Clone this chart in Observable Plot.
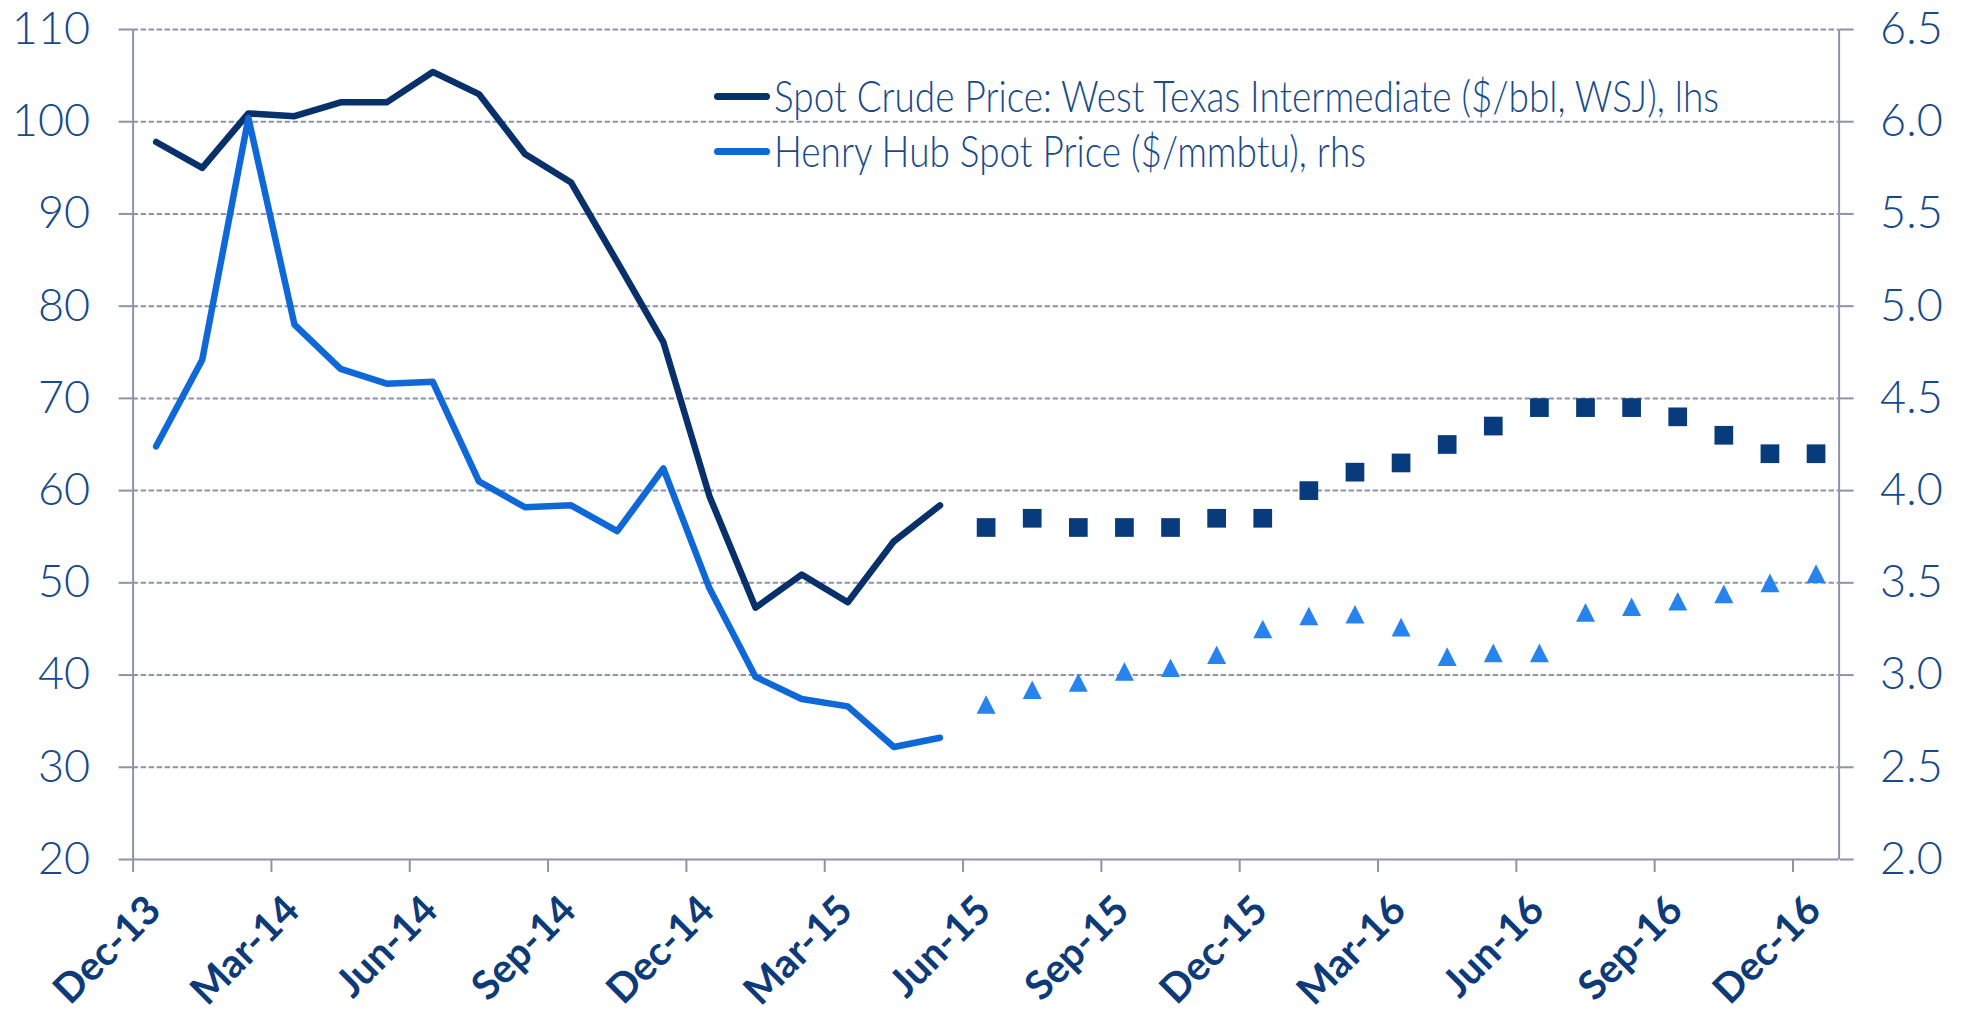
<!DOCTYPE html>
<html>
<head>
<meta charset="utf-8">
<script src="https://cdn.jsdelivr.net/npm/d3@7"></script>
<script src="https://cdn.jsdelivr.net/npm/@observablehq/plot@0.6"></script>
<style>
  html, body { margin: 0; padding: 0; background: #fff; }
  #wrap { position: relative; width: 1967px; height: 1014px; overflow: hidden; background: #fff; }
  #wrap svg { position: absolute; left: 0; top: 0; }
  .leg { position: absolute; display: flex; align-items: center; white-space: nowrap; height: 42px; }
  .sw { display: inline-block; width: 56px; height: 7px; border-radius: 4px; margin-right: 4px; flex: none; }
  .lt { display: inline-block; font-family: Lato, sans-serif; font-weight: 300; font-size: 43px; line-height: 42px; color: #174a8b; transform-origin: 0 50%; }
</style>
</head>
<body>
<div id="wrap"></div>
<script>
// ---- data ----
const months = ["Dec-13","Jan-14","Feb-14","Mar-14","Apr-14","May-14","Jun-14","Jul-14","Aug-14","Sep-14","Oct-14","Nov-14",
  "Dec-14","Jan-15","Feb-15","Mar-15","Apr-15","May-15","Jun-15","Jul-15","Aug-15","Sep-15","Oct-15","Nov-15",
  "Dec-15","Jan-16","Feb-16","Mar-16","Apr-16","May-16","Jun-16","Jul-16","Aug-16","Sep-16","Oct-16","Nov-16","Dec-16"];
const xTickLabels = ["Dec-13","Mar-14","Jun-14","Sep-14","Dec-14","Mar-15","Jun-15","Sep-15","Dec-15","Mar-16","Jun-16","Sep-16","Dec-16"];
// WTI spot ($/bbl), lhs: actual Dec-13..May-15
const wtiActual = [97.8, 95.0, 100.9, 100.6, 102.1, 102.1, 105.4, 103.0, 96.5, 93.4, 84.8, 76.1, 59.4, 47.3, 50.9, 47.9, 54.5, 58.4];
// Henry Hub ($/mmbtu), rhs: actual Dec-13..May-15
const hhActual = [4.24, 4.71, 6.02, 4.90, 4.66, 4.58, 4.59, 4.05, 3.91, 3.92, 3.78, 4.12, 3.47, 2.99, 2.87, 2.83, 2.61, 2.66];
// forecasts Jun-15..Dec-16
const wtiForecast = [56, 57, 56, 56, 56, 57, 57, 60, 62, 63, 65, 67, 69, 69, 69, 68, 66, 64, 64];
const hhForecast = [2.84, 2.92, 2.96, 3.02, 3.04, 3.11, 3.25, 3.32, 3.33, 3.26, 3.10, 3.12, 3.12, 3.34, 3.37, 3.40, 3.44, 3.50, 3.55];
const leftTicks = [20, 30, 40, 50, 60, 70, 80, 90, 100, 110];
const rightTickLabels = ["2.0","2.5","3.0","3.5","4.0","4.5","5.0","5.5","6.0","6.5"];
const legendLabels = ["Spot Crude Price: West Texas Intermediate ($/bbl, WSJ), lhs", "Henry Hub Spot Price ($/mmbtu), rhs"];

// ---- styles ----
const navyText = "#174a8b";
const axisGray = "#8d93ab";
const wtiColor = "#08306a";
const hhColor = "#0e68d8";
const sqColor = "#083b7b";
const triColor = "#2783ed";

// right axis mapped onto left scale: 2.0 -> 20, 6.5 -> 110
const rhsToLhs = v => 20 + (v - 2) * 20;

const nActual = wtiActual.length;
const rows = months.map((m, i) => ({
  i, m,
  wti: i < nActual ? wtiActual[i] : null,
  hh: i < nActual ? hhActual[i] : null,
  wtiF: i >= nActual ? wtiForecast[i - nActual] : null,
  hhF: i >= nActual ? hhForecast[i - nActual] : null
}));
const actual = rows.filter(d => d.wti != null);
const forecast = rows.filter(d => d.wtiF != null);
const labelIdx = xTickLabels.map(l => months.indexOf(l));
const boundaryTicks = labelIdx.map(i => i - 0.5);

// triangle symbol centred on its bounding box
const triangle = {
  draw(ctx, size) {
    const r = Math.sqrt(size / Math.PI);
    ctx.moveTo(0, -r);
    ctx.lineTo(r * 1.02, r);
    ctx.lineTo(-r * 1.02, r);
    ctx.closePath();
  }
};

const chart = Plot.plot({
  width: 1967,
  height: 1014,
  marginLeft: 132.6,
  marginRight: 128.4,
  marginTop: 29,
  marginBottom: 155,
  style: { fontFamily: "Lato, sans-serif", background: "#fff", overflow: "visible" },
  x: { type: "linear", domain: [-0.5, months.length - 0.5] },
  y: { domain: [20, 110] },
  marks: [
    Plot.gridY(leftTicks.slice(1), { stroke: axisGray, strokeOpacity: 1, strokeWidth: 2, strokeDasharray: "5.5,2.5" }),
    Plot.axisY({ anchor: "left", ticks: leftTicks, tickSize: 14, tickPadding: 29, stroke: axisGray, strokeWidth: 2,
      fill: navyText, fontSize: 45, fontWeight: 300, label: null }),
    Plot.axisY({ anchor: "right", ticks: leftTicks, tickSize: 14, tickPadding: 27, stroke: axisGray, strokeWidth: 2,
      fill: navyText, fontSize: 45, fontWeight: 300, label: null,
      tickFormat: d => rightTickLabels[leftTicks.indexOf(d)] }),
    Plot.axisX({ anchor: "bottom", ticks: boundaryTicks, tickSize: 13, stroke: axisGray, strokeWidth: 2,
      tickFormat: () => "", label: null }),
    Plot.axisX({ anchor: "bottom", ticks: labelIdx, tickSize: 0, tickPadding: 55, tickRotate: -45, dx: -2, dy: -11,
      tickFormat: i => months[i], fill: "#0d3a78", fontSize: 40, fontWeight: 700, label: null }),
    Plot.ruleY([20], { stroke: axisGray, strokeWidth: 2 }),
    Plot.ruleX([-0.5, months.length - 0.5], { stroke: axisGray, strokeWidth: 2 }),
    Plot.line(actual, { x: "i", y: "wti", stroke: wtiColor, strokeWidth: 6.5, strokeLinejoin: "round", strokeLinecap: "round" }),
    Plot.line(actual, { x: "i", y: d => rhsToLhs(d.hh), stroke: hhColor, strokeWidth: 6.5, strokeLinejoin: "round", strokeLinecap: "round" }),
    Plot.dot(forecast, { x: "i", y: "wtiF", symbol: "square", r: 10.55, fill: sqColor, stroke: "none" }),
    Plot.dot(forecast, { x: "i", y: d => rhsToLhs(d.hhF), symbol: triangle, r: 9.3, fill: triColor, stroke: "none" })
  ]
});

const wrap = document.getElementById("wrap");
wrap.appendChild(chart);

// legend (inside plot area, top)
const legendSpec = [
  { label: legendLabels[0], color: wtiColor, top: 75 },
  { label: legendLabels[1], color: hhColor, top: 130 }
];
const textEls = [];
for (const s of legendSpec) {
  const row = document.createElement("div");
  row.className = "leg";
  row.style.left = "714px";
  row.style.top = s.top + "px";
  const sw = document.createElement("span");
  sw.className = "sw";
  sw.style.background = s.color;
  const t = document.createElement("span");
  t.className = "lt";
  t.textContent = s.label;
  row.appendChild(sw);
  row.appendChild(t);
  wrap.appendChild(row);
  textEls.push(t);
}
// condense legend text to the reference's width
const natural = textEls[0].getBoundingClientRect().width;
const k = 945 / natural;
textEls.forEach(t => t.style.transform = `scaleX(${k})`);
</script>
</body>
</html>
